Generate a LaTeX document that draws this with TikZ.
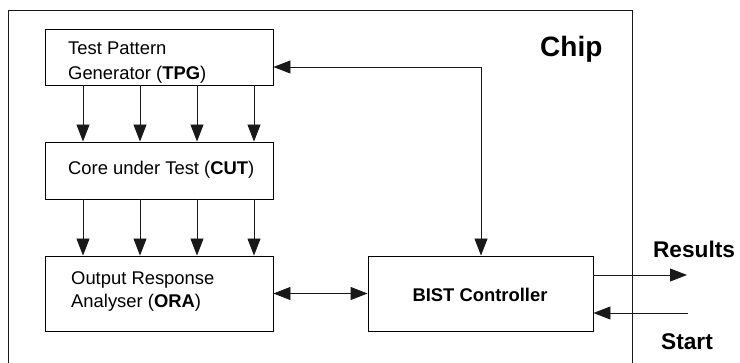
\documentclass[tikz,border=0pt]{standalone}
\usepackage{fontspec}
\setmainfont{Liberation Sans}
\usetikzlibrary{arrows.meta}
\tikzset{
  blk/.style={draw=black, line width=0.9pt, inner sep=0pt},
  lbl/.style={inner sep=0pt, anchor=base west, font=\fontsize{18.4}{22}\selectfont},
  tip/.tip={Triangle[length=17pt,width=13pt]},
  sig/.style={draw=black!90, line width=0.9pt, -tip},
  bsig/.style={draw=black!90, line width=0.9pt, tip-tip},
  big/.style={inner sep=0pt, font=\bfseries\fontsize{22.7}{26}\selectfont}
}
\begin{document}
\begin{tikzpicture}[x=1pt,y=-1pt]
\useasboundingbox (0,0) rectangle (740,363);
% chip frame (open at the bottom)
\draw[draw=black!90, line width=0.9pt] (8,363) -- (8,10) -- (632,10) -- (632,363);
\node[big, anchor=base west, font=\bfseries\fontsize{28}{32}\selectfont] (chip) at (540,57) {Chip};
% blocks
\node[blk, minimum width=228pt, minimum height=56pt] (tpg) at (159,57) {};
\node[blk, minimum width=228pt, minimum height=57pt] (cut) at (159,170.5) {};
\node[blk, minimum width=228pt, minimum height=75pt] (ora) at (159,293.5) {};
\node[blk, minimum width=225pt, minimum height=75pt] (bist) at (480.5,293.5) {};
% labels
\node[lbl] (t1) at (68,55) {Test Pattern};
\node[lbl] (t2) at (68,80) {Generator (\textbf{TPG})};
\node[lbl] (c1) at (68,175) {Core under Test (\textbf{CUT})};
\node[lbl] (o1) at (71,285) {Output Response};
\node[lbl] (o2) at (71,308) {Analyser (\textbf{ORA})};
\node[inner sep=0pt, font=\bfseries\fontsize{18.4}{22}\selectfont] (b1) at (480,295) {BIST Controller};
% TPG -> CUT, CUT -> ORA
\foreach \x in {83,140,197,254} {
  \draw[sig] (tpg.south -| \x,0) -- (cut.north -| \x,0);
  \draw[sig] (cut.south -| \x,0) -- (ora.north -| \x,0);
}
% BIST <-> ORA
\draw[bsig] (ora.east) -- (bist.west);
% BIST <-> TPG
\coordinate (corner) at (481,67);
\draw[bsig] (bist.north -| corner) -- (corner) -- (tpg.east |- corner);
% Results / Start
\coordinate (resend) at (687,275);
\coordinate (startbeg) at (688,313);
\draw[sig] (bist.east |- resend) -- (resend);
\draw[sig] (startbeg) -- (bist.east |- startbeg);
\node[big, anchor=base] (res) at (694,258) {Results};
\node[big, anchor=base] (start) at (687,350) {Start};
\end{tikzpicture}
\end{document}
